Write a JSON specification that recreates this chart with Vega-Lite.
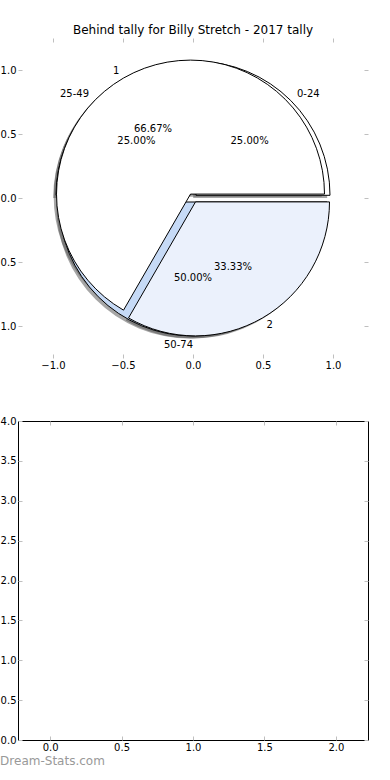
{
  "$schema": "https://vega.github.io/schema/vega-lite/v6.json",
  "autosize": {"type": "pad"},
  "padding": {"left": -9, "top": 23, "right": 0, "bottom": 0},
  "background": "white",
  "config": {
    "font": "DejaVu Sans",
    "view": {"stroke": null},
    "axis": {"grid": false, "domain": false, "tickColor": "#bfbfbf", "tickSize": -4, "tickWidth": 1, "labelFont": "DejaVu Sans", "labelFontSize": 10, "labelColor": "black", "labelPadding": 6, "title": null},
    "title": {"font": "DejaVu Sans", "fontWeight": "normal", "color": "black"}
  },
  "datasets": {
    "byTally": [
      {"label": "1", "value": 0.6667},
      {"label": "2", "value": 0.3333}
    ],
    "byRange": [
      {"label": "0-24", "value": 0.25},
      {"label": "25-49", "value": 0.25},
      {"label": "50-74", "value": 0.5}
    ]
  },
  "bounds": "flush",
  "spacing": 63,
  "resolve": {"scale": {"x": "independent", "y": "independent"}},
  "vconcat": [
    {
      "width": 350,
      "height": 320,
      "view": {"stroke": null},
      "title": {"text": "Behind tally for Billy Stretch - 2017 tally", "anchor": "middle", "frame": "group", "offset": 1, "fontSize": 12},
      "resolve": {"axis": {"x": "independent", "y": "independent"}},
      "layer": [
        {"data": {"name": "byRange"}, "transform": [{"stack": "value", "groupby": [], "sort": [{"field": "label", "order": "ascending"}], "as": ["s0", "s1"]}, {"filter": "datum.label === '0-24'"}],
         "mark": {"type": "arc", "radius": 134, "xOffset": 0.2, "yOffset": -0.1, "fill": "#4d4d4d", "fillOpacity": 0.5, "stroke": null},
         "encoding": {"theta": {"field": "s0", "type": "quantitative", "scale": {"domain": [0, 1], "range": [1.5708, -4.7124]}}, "theta2": {"field": "s1"}}},
        {"data": {"name": "byRange"}, "transform": [{"stack": "value", "groupby": [], "sort": [{"field": "label", "order": "ascending"}], "as": ["s0", "s1"]}, {"filter": "datum.label === '25-49'"}],
         "mark": {"type": "arc", "radius": 134, "xOffset": -5.8, "yOffset": -0.1, "fill": "#4d4d4d", "fillOpacity": 0.5, "stroke": null},
         "encoding": {"theta": {"field": "s0", "type": "quantitative"}, "theta2": {"field": "s1"}}},
        {"data": {"name": "byRange"}, "transform": [{"stack": "value", "groupby": [], "sort": [{"field": "label", "order": "ascending"}], "as": ["s0", "s1"]}, {"filter": "datum.label === '50-74'"}],
         "mark": {"type": "arc", "radius": 134, "xOffset": -2.8, "yOffset": 6.6, "fill": "#4d4d4d", "fillOpacity": 0.5, "stroke": null},
         "encoding": {"theta": {"field": "s0", "type": "quantitative"}, "theta2": {"field": "s1"}}},
        {"data": {"name": "byTally"}, "transform": [{"stack": "value", "groupby": [], "sort": [{"field": "label", "order": "ascending"}], "as": ["s0", "s1"]}, {"filter": "datum.label === '1'"}],
         "mark": {"type": "arc", "radius": 134, "xOffset": -5.3, "yOffset": -1.3, "fill": "#4d4d4d", "fillOpacity": 0.5, "stroke": null},
         "encoding": {"theta": {"field": "s0", "type": "quantitative"}, "theta2": {"field": "s1"}}},
        {"data": {"name": "byTally"}, "transform": [{"stack": "value", "groupby": [], "sort": [{"field": "label", "order": "ascending"}], "as": ["s0", "s1"]}, {"filter": "datum.label === '2'"}],
         "mark": {"type": "arc", "radius": 134, "xOffset": -0.3, "yOffset": 6.5, "fill": "#4d4d4d", "fillOpacity": 0.5, "stroke": null},
         "encoding": {"theta": {"field": "s0", "type": "quantitative"}, "theta2": {"field": "s1"}}},

        {"data": {"name": "byRange"}, "transform": [{"stack": "value", "groupby": [], "sort": [{"field": "label", "order": "ascending"}], "as": ["s0", "s1"]}, {"filter": "datum.label === '0-24'"}],
         "mark": {"type": "arc", "radius": 134, "xOffset": 3, "yOffset": -2.7, "fill": "white", "stroke": "black", "strokeWidth": 1},
         "encoding": {"theta": {"field": "s0", "type": "quantitative"}, "theta2": {"field": "s1"}}},
        {"data": {"name": "byRange"}, "transform": [{"stack": "value", "groupby": [], "sort": [{"field": "label", "order": "ascending"}], "as": ["s0", "s1"]}, {"filter": "datum.label === '25-49'"}],
         "mark": {"type": "arc", "radius": 134, "xOffset": -3, "yOffset": -2.7, "fill": "white", "stroke": "black", "strokeWidth": 1},
         "encoding": {"theta": {"field": "s0", "type": "quantitative"}, "theta2": {"field": "s1"}}},
        {"data": {"name": "byRange"}, "transform": [{"stack": "value", "groupby": [], "sort": [{"field": "label", "order": "ascending"}], "as": ["s0", "s1"]}, {"filter": "datum.label === '50-74'"}],
         "mark": {"type": "arc", "radius": 134, "xOffset": 0, "yOffset": 4, "fill": "#c6daf6", "stroke": "black", "strokeWidth": 1},
         "encoding": {"theta": {"field": "s0", "type": "quantitative"}, "theta2": {"field": "s1"}}},
        {"data": {"name": "byTally"}, "transform": [{"stack": "value", "groupby": [], "sort": [{"field": "label", "order": "ascending"}], "as": ["s0", "s1"]}, {"filter": "datum.label === '1'"}],
         "mark": {"type": "arc", "radius": 134, "xOffset": -2.5, "yOffset": -3.9, "fill": "white", "stroke": "black", "strokeWidth": 1},
         "encoding": {"theta": {"field": "s0", "type": "quantitative"}, "theta2": {"field": "s1"}}},
        {"data": {"name": "byTally"}, "transform": [{"stack": "value", "groupby": [], "sort": [{"field": "label", "order": "ascending"}], "as": ["s0", "s1"]}, {"filter": "datum.label === '2'"}],
         "mark": {"type": "arc", "radius": 134, "xOffset": 2.5, "yOffset": 3.9, "fill": "#ebf1fc", "stroke": "black", "strokeWidth": 1},
         "encoding": {"theta": {"field": "s0", "type": "quantitative"}, "theta2": {"field": "s1"}}},

        {"data": {"name": "byTally"},
         "mark": {"type": "text", "radius": 147, "align": "left", "baseline": "middle", "fontSize": 10, "color": "black"},
         "encoding": {"theta": {"field": "value", "type": "quantitative", "stack": true}, "order": {"field": "label", "type": "ordinal", "sort": "ascending"},
                      "text": {"condition": {"test": "datum.label === '2'", "field": "label"}, "value": ""}}},
        {"data": {"name": "byTally"},
         "mark": {"type": "text", "radius": 147, "align": "right", "baseline": "middle", "fontSize": 10, "color": "black"},
         "encoding": {"theta": {"field": "value", "type": "quantitative", "stack": true}, "order": {"field": "label", "type": "ordinal", "sort": "ascending"},
                      "text": {"condition": {"test": "datum.label === '1'", "field": "label"}, "value": ""}}},
        {"data": {"name": "byRange"},
         "mark": {"type": "text", "radius": 147, "align": "left", "baseline": "middle", "fontSize": 10, "color": "black"},
         "encoding": {"theta": {"field": "value", "type": "quantitative", "stack": true}, "order": {"field": "label", "type": "ordinal", "sort": "ascending"},
                      "text": {"condition": {"test": "datum.label === '0-24'", "field": "label"}, "value": ""}}},
        {"data": {"name": "byRange"},
         "mark": {"type": "text", "radius": 147, "align": "right", "baseline": "middle", "fontSize": 10, "color": "black"},
         "encoding": {"theta": {"field": "value", "type": "quantitative", "stack": true}, "order": {"field": "label", "type": "ordinal", "sort": "ascending"},
                      "text": {"condition": {"test": "datum.label !== '0-24'", "field": "label"}, "value": ""}}},
        {"data": {"name": "byTally"},
         "mark": {"type": "text", "radius": 80, "align": "center", "baseline": "middle", "fontSize": 10, "color": "black"},
         "encoding": {"theta": {"field": "value", "type": "quantitative", "stack": true}, "order": {"field": "label", "type": "ordinal", "sort": "ascending"},
                      "text": {"field": "value", "type": "quantitative", "format": ".2%"},
                      "x": {"datum": 0, "type": "quantitative", "scale": {"domain": [-1.25, 1.25], "nice": false, "zero": false}, "axis": {"orient": "bottom", "values": [-1, -0.5, 0, 0.5, 1], "format": ".1f", "title": null}},
                      "y": {"datum": 0, "type": "quantitative", "scale": {"domain": [-1.25, 1.25], "nice": false, "zero": false}, "axis": {"orient": "left", "values": [-1, -0.5, 0, 0.5, 1], "format": ".1f", "title": null}}}},
        {"data": {"name": "byRange"},
         "mark": {"type": "text", "radius": 80, "align": "center", "baseline": "middle", "fontSize": 10, "color": "black"},
         "encoding": {"theta": {"field": "value", "type": "quantitative", "stack": true}, "order": {"field": "label", "type": "ordinal", "sort": "ascending"},
                      "text": {"field": "value", "type": "quantitative", "format": ".2%"},
                      "x": {"datum": 0, "type": "quantitative", "scale": {"domain": [-1.25, 1.25], "nice": false, "zero": false}, "axis": {"orient": "top", "values": [-1, -0.5, 0, 0.5, 1], "labels": false, "title": null}},
                      "y": {"datum": 0, "type": "quantitative", "scale": {"domain": [-1.25, 1.25], "nice": false, "zero": false}, "axis": {"orient": "right", "values": [-1, -0.5, 0, 0.5, 1], "labels": false, "title": null}}}}
      ]
    },
    {
      "width": 350,
      "height": 319,
      "view": {"stroke": "black", "strokeWidth": 1},
      "title": {"text": "Dream-Stats.com", "orient": "bottom", "anchor": "start", "frame": "bounds", "offset": 4, "baseline": "top", "fontSize": 12, "color": "#999999"},
      "resolve": {"axis": {"x": "independent", "y": "independent"}},
      "layer": [
        {"data": {"values": []}, "mark": "point",
         "encoding": {
           "x": {"field": "x", "type": "quantitative", "scale": {"domain": [-0.225, 2.225], "nice": false, "zero": false}, "axis": {"orient": "bottom", "values": [0, 0.5, 1, 1.5, 2], "format": ".1f", "title": null}},
           "y": {"field": "y", "type": "quantitative", "scale": {"domain": [0, 4], "nice": false}, "axis": {"orient": "left", "values": [0, 0.5, 1, 1.5, 2, 2.5, 3, 3.5, 4], "format": ".1f", "title": null}}}},
        {"data": {"values": []}, "mark": "point",
         "encoding": {
           "x": {"field": "x", "type": "quantitative", "scale": {"domain": [-0.225, 2.225], "nice": false, "zero": false}, "axis": {"orient": "top", "values": [0, 0.5, 1, 1.5, 2], "labels": false, "title": null}},
           "y": {"field": "y", "type": "quantitative", "scale": {"domain": [0, 4], "nice": false}, "axis": {"orient": "right", "values": [0, 0.5, 1, 1.5, 2, 2.5, 3, 3.5, 4], "labels": false, "title": null}}}}
      ]
    }
  ]
}
